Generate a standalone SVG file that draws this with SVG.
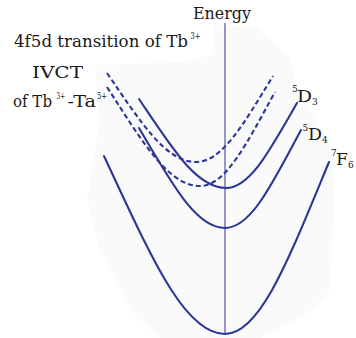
<svg xmlns="http://www.w3.org/2000/svg" width="356" height="338" viewBox="0 0 356 338">
  <style>
    .t { font-family: 'DejaVu Serif', serif; fill: #1a1a1a; }
    .big { font-size: 17px; }
    .sm { font-size: 9px; }
    .c { fill: none; stroke: #2c3794; stroke-width: 2.1; stroke-linecap: round; }
    .d { stroke-dasharray: 5 3; stroke-linecap: butt; }
    .ax { stroke: #3b46a6; stroke-width: 1.1; fill: none; }
  </style>
  <rect width="356" height="338" fill="#ffffff"/>
  <g id="background">
    <polygon points="95,65 180,62 213,55 213,24 258,28 290,58 296,82 312,112 332,150 334,200 330,290 310,312 260,338 160,338 130,310 100,250 87,200 100,120" fill="#fafafb"/>
  </g>
  <g id="axis">
    <line class="ax" x1="225" y1="23" x2="225" y2="334"/>
    <text class="t big" x="193" y="19" textLength="58" lengthAdjust="spacingAndGlyphs">Energy</text>
  </g>
  <g id="connectors">
    <path id="curve-7F6" class="c" d="M104,156 C150.6,255.7 184,334 225,334 C260.4,334 289,258.3 329,162"/>
    <path id="curve-5D4" class="c" d="M139,128 C172.1,184 195.8,228 225,228 C250.8,228 271.7,184.9 301,130"/>
    <path id="curve-5D3" class="c" d="M139,99 C172.5,148.8 196.4,188 226,188 C250.1,188 269.7,150.6 297,103"/>
    <path id="curve-4f5d" class="c d" d="M107,73 C141.3,122.8 165.7,162 196,162 C222.2,162 243.4,124.2 273,76"/>
    <path id="curve-IVCT" class="c d" d="M107,87 C142.8,142.4 168.4,186 200,186 C225.5,186 246.1,144.6 275,92"/>
  </g>
  <g id="label-4f5d">
    <text class="t big" x="14" y="47" textLength="174" lengthAdjust="spacingAndGlyphs">4f5d transition of Tb</text>
    <text class="t sm" x="190.5" y="39" textLength="10" lengthAdjust="spacingAndGlyphs">3+</text>
  </g>
  <g id="label-IVCT">
    <text class="t big" x="32" y="78" textLength="51" lengthAdjust="spacingAndGlyphs">IVCT</text>
    <text class="t big" x="13" y="107" textLength="39" lengthAdjust="spacingAndGlyphs">of Tb</text>
    <text class="t sm" x="56.5" y="99" textLength="8.5" lengthAdjust="spacingAndGlyphs">3+</text>
    <text class="t big" x="67.5" y="107" textLength="28.5" lengthAdjust="spacingAndGlyphs">-Ta</text>
    <text class="t sm" x="97" y="99" textLength="10" lengthAdjust="spacingAndGlyphs">5+</text>
  </g>
  <g id="label-5D3">
    <text class="t sm" x="292" y="92">5</text>
    <text class="t big" x="297" y="102" textLength="15" lengthAdjust="spacingAndGlyphs">D</text>
    <text class="t sm" x="312" y="105">3</text>
  </g>
  <g id="label-5D4">
    <text class="t sm" x="302.5" y="131">5</text>
    <text class="t big" x="308" y="140" textLength="14" lengthAdjust="spacingAndGlyphs">D</text>
    <text class="t sm" x="322" y="143">4</text>
  </g>
  <g id="label-7F6">
    <text class="t sm" x="331" y="156">7</text>
    <text class="t big" x="336" y="165" textLength="12" lengthAdjust="spacingAndGlyphs">F</text>
    <text class="t sm" x="348" y="168">6</text>
  </g>
</svg>
